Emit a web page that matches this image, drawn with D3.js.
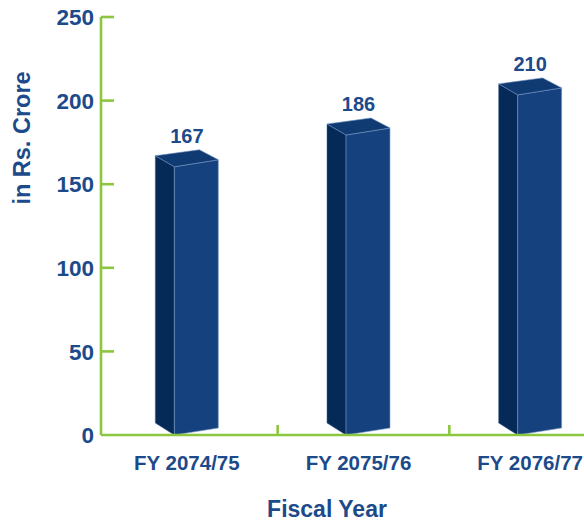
<!DOCTYPE html>
<html><head><meta charset="utf-8">
<script src="https://cdn.jsdelivr.net/npm/d3@7"></script>
<style>html,body{margin:0;padding:0;background:#fff;}svg{display:block;}</style>
</head><body>
<script>
const categories = ["FY 2074/75", "FY 2075/76", "FY 2076/77"];
const values = [167, 186, 210];
const yTicks = [0, 50, 100, 150, 200, 250];
const yTitle = "in Rs. Crore";
const xTitle = "Fiscal Year";

const W = 584, H = 526;
const svg = d3.select("body").append("svg").attr("width", W).attr("height", H);
const font = "'Liberation Sans', Arial, Helvetica, sans-serif";
const textColor = "#1c4a8a";
const green = "#8cc63f";

const y = d3.scaleLinear().domain([0, 250]).range([435, 17]);
const x = d3.scaleBand().domain(categories).range([101, 616]);

// bars (3D)
const sideW = 19, frontW = 44, depth = 11, rise = 7;
const g = svg.append("g");
categories.forEach((c, i) => {
  const cx = x(c) + x.bandwidth() / 2;
  const bx = cx - (sideW + frontW) / 2;
  const yt = y(values[i]);
  const yb = y(0) - 12;
  // side face
  g.append("path")
    .attr("d", `M${bx},${yt} L${bx + sideW},${yt + depth} L${bx + sideW},${yb + depth + 1} L${bx},${yb} Z`)
    .attr("fill", "#062a58").attr("stroke", "#3a5f95").attr("stroke-width", 0.5);
  // front face
  g.append("path")
    .attr("d", `M${bx + sideW},${yt + depth} L${bx + sideW + frontW},${yt + depth - rise} L${bx + sideW + frontW},${yb + depth - rise + 1} L${bx + sideW},${yb + depth + 1} Z`)
    .attr("fill", "#15427e").attr("stroke", "#7f9fcc").attr("stroke-width", 0.6);
  // top face
  g.append("path")
    .attr("d", `M${bx},${yt} L${bx + sideW},${yt + depth} L${bx + sideW + frontW},${yt + depth - rise} L${bx + frontW},${yt - 6} Z`)
    .attr("fill", "#0f3a72").attr("stroke", "#6d8fc0").attr("stroke-width", 0.6);
  // value label
  svg.append("text").attr("x", cx).attr("y", yt - 13)
    .attr("text-anchor", "middle").attr("font-family", font).attr("font-weight", "bold")
    .attr("font-size", 20).attr("fill", textColor).text(values[i]);
});

// axes
const ax = svg.append("g");
ax.append("line").attr("x1", x.range()[0]).attr("x2", W).attr("y1", y(0)).attr("y2", y(0))
  .attr("stroke", green).attr("stroke-width", 2.6);
ax.append("line").attr("x1", 101).attr("x2", 101).attr("y1", y(250)).attr("y2", y(0))
  .attr("stroke", green).attr("stroke-width", 2.6);
yTicks.forEach(t => {
  if (t > 0) ax.append("line").attr("x1", 101).attr("x2", 114).attr("y1", y(t)).attr("y2", y(t))
    .attr("stroke", green).attr("stroke-width", 2.6);
  svg.append("text").attr("x", 94).attr("y", y(t)).attr("dy", "0.36em")
    .attr("text-anchor", "end").attr("font-family", font).attr("font-weight", "bold")
    .attr("font-size", 22.5).attr("fill", textColor).text(t);
});
categories.forEach((c, i) => {
  if (i > 0) ax.append("line").attr("x1", x(c) + 5).attr("x2", x(c) + 5).attr("y1", y(0)).attr("y2", y(0) - 10)
    .attr("stroke", green).attr("stroke-width", 2.6);
  svg.append("text").attr("x", x(c) + x.bandwidth() / 2).attr("y", 470)
    .attr("text-anchor", "middle").attr("font-family", font).attr("font-weight", "bold")
    .attr("font-size", 20.5).attr("fill", textColor).text(c);
});

svg.append("text").attr("transform", "translate(30,138) rotate(-90)")
  .attr("text-anchor", "middle").attr("font-family", font).attr("font-weight", "bold")
  .attr("font-size", 23.5).attr("fill", textColor).text(yTitle);
svg.append("text").attr("x", 327).attr("y", 517)
  .attr("text-anchor", "middle").attr("font-family", font).attr("font-weight", "bold")
  .attr("font-size", 23).attr("fill", textColor).text(xTitle);
</script>
</body></html>
